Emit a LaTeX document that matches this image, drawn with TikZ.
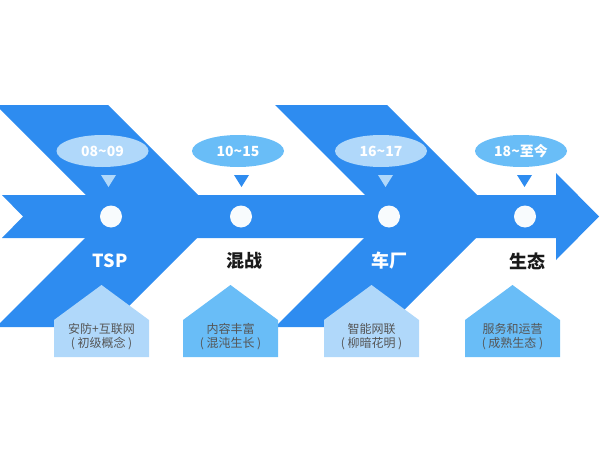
\documentclass[tikz,border=0pt]{standalone}
\usepackage{fontspec}
\setmainfont{Noto Sans CJK SC}
\usetikzlibrary{positioning,shapes.geometric}
\definecolor{spine}{HTML}{2E8CF0}
\definecolor{pale}{HTML}{B0D8FA}
\definecolor{sky}{HTML}{69BDF7}
\definecolor{ink}{HTML}{555555}
\definecolor{dark}{HTML}{1A1A1A}
\definecolor{dot}{HTML}{F8FBFD}
\newcommand{\tld}{\textasciitilde}
% pentagon card: left x, peak x, right x, colour
\newcommand{\roofbox}[4]{\fill[#4] (#1,357) -- (#1,320) -- (#2,285) -- (#3,320) -- (#3,357) -- cycle;}

\begin{document}
\begin{tikzpicture}[x=1pt,y=-1pt,
  bubble/.style={ellipse,inner sep=0pt,minimum width=92pt,minimum height=32pt,text=white,font=\fontsize{14}{16}\selectfont\bfseries},
  dotnode/.style={circle,fill=dot,inner sep=0pt,minimum size=22pt},
  stage/.style={inner sep=0pt,font=\fontsize{18}{20}\selectfont\bfseries},
  note/.style={inner sep=0pt,align=center,text=ink,font=\fontsize{12}{14}\selectfont}]
\useasboundingbox (0,0) rectangle (600,455);
% the two chevrons and the spine
\fill[spine] (-4,105) -- (108,105) -- (219,216) -- (108,327) -- (-4,327) -- (107,216) -- cycle;
\fill[spine] (275,105) -- (387,105) -- (498,216) -- (387,327) -- (275,327) -- (386,216) -- cycle;
\fill[spine] (2,195) -- (556,195) -- (556,173) -- (599,216.5) -- (556,260) -- (556,238) -- (2,238) -- (23,216.5) -- cycle;
% periods
\node[bubble,fill=pale] (p1) at (102.5,151) {08\tld09};
\node[bubble,fill=sky] (p2) at (238,151) {10\tld15};
\node[bubble,fill=pale] (p3) at (381,151) {16\tld17};
\node[bubble,fill=sky] (p4) at (521,151) {18\tld 至今};
\fill[pale] (101,175) -- (116,175) -- (108.5,187) -- cycle;
\fill[spine] (234,175) -- (249,175) -- (241.5,187) -- cycle;
\fill[pale] (378,175) -- (393,175) -- (385.5,187) -- cycle;
\fill[spine] (517,175) -- (532,175) -- (524.5,187) -- cycle;
\node[dotnode] (d1) at (111,216.5) {};
\node[dotnode] (d2) at (241,216.5) {};
\node[dotnode] (d3) at (389,216.5) {};
\node[dotnode] (d4) at (525,216.5) {};
% stages
\node[stage,text=white] (s1) at (110,261) {TSP};
\node[stage,text=dark] (s2) at (244.5,261) {混战};
\node[stage,text=white] (s3) at (389.5,261) {车厂};
\node[stage,text=dark] (s4) at (527.5,261) {生态};
% cards
\roofbox{54}{101.5}{149}{pale}
\roofbox{183}{230.5}{278}{sky}
\roofbox{324}{371.5}{419}{pale}
\roofbox{465}{512.5}{560}{sky}
\node[note] (n1) at (101.5,336.5) {安防+互联网\\( 初级概念 )};
\node[note] (n2) at (230.5,336.5) {内容丰富\\( 混沌生长 )};
\node[note] (n3) at (371.5,336.5) {智能网联\\( 柳暗花明 )};
\node[note] (n4) at (512.5,336.5) {服务和运营\\( 成熟生态 )};
\end{tikzpicture}
\end{document}
